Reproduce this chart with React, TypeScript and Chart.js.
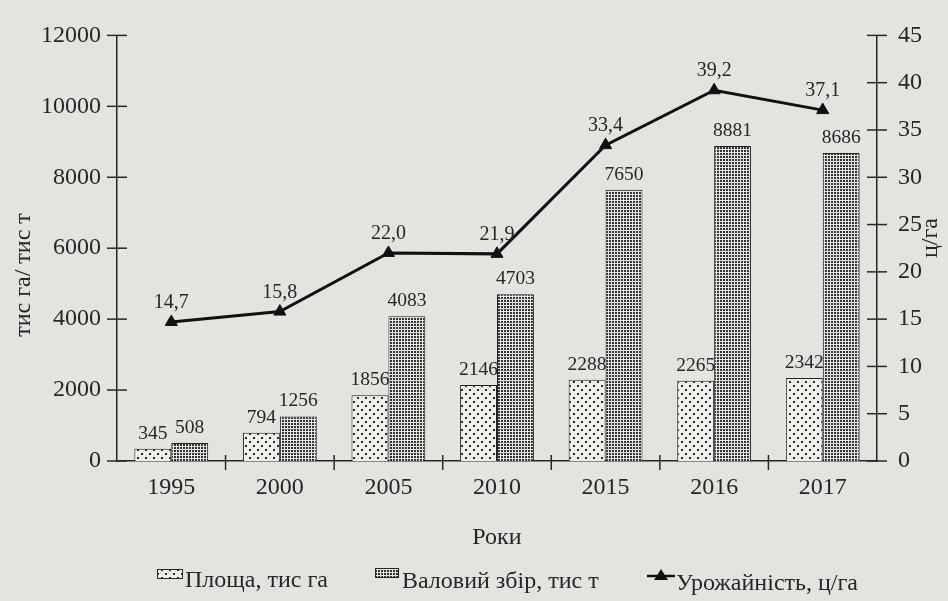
import React, { useEffect, useRef } from "react";
import { Chart, registerables } from "chart.js";

Chart.register(...registerables);

const years = ["1995", "2000", "2005", "2010", "2015", "2016", "2017"];
const area = [345, 794, 1856, 2146, 2288, 2265, 2342];
const harvest = [508, 1256, 4083, 4703, 7650, 8881, 8686];
const yieldValues = [14.7, 15.8, 22.0, 21.9, 33.4, 39.2, 37.1];
const leftTicks = [0, 2000, 4000, 6000, 8000, 10000, 12000];
const rightTicks = [0, 5, 10, 15, 20, 25, 30, 35, 40, 45];

const labelArea = "Площа, тис га";
const labelHarvest = "Валовий збір, тис т";
const labelYield = "Урожайність, ц/га";
const titleLeft = "тис га/ тис т";
const titleRight = "ц/га";
const titleX = "Роки";

const BG = "#e3e3e0";
const INK = "#262626";
const FONT = "'Liberation Serif', 'Times New Roman', serif";

function makeSparsePattern(): CanvasPattern | string {
  const c = document.createElement("canvas");
  c.width = 8;
  c.height = 8;
  const g = c.getContext("2d");
  if (!g) return "#eee";
  g.fillStyle = "#efefec";
  g.fillRect(0, 0, 8, 8);
  g.fillStyle = "#2a2a2a";
  g.fillRect(1, 1, 2, 2);
  g.fillRect(5, 5, 2, 2);
  return g.createPattern(c, "repeat") || "#eee";
}

function makeDensePattern(): CanvasPattern | string {
  const c = document.createElement("canvas");
  c.width = 3;
  c.height = 3;
  const g = c.getContext("2d");
  if (!g) return "#999";
  g.fillStyle = "#e6e6e3";
  g.fillRect(0, 0, 3, 3);
  g.fillStyle = "#333333";
  g.fillRect(0, 0, 2, 2);
  return g.createPattern(c, "repeat") || "#999";
}

export default function App() {
  const ref = useRef<HTMLCanvasElement | null>(null);

  useEffect(() => {
    if (!ref.current) return;
    const sparse = makeSparsePattern();
    const dense = makeDensePattern();

    const decor = {
      id: "decor",
      beforeDraw(chart: any) {
        const ctx = chart.ctx;
        ctx.save();
        ctx.fillStyle = BG;
        ctx.fillRect(0, 0, chart.width, chart.height);
        ctx.restore();
      },
      afterDraw(chart: any) {
        const ctx = chart.ctx;
        const ys = chart.scales.y;
        const yr = chart.scales.y1;
        const xs = chart.scales.x;
        const ca = chart.chartArea;
        ctx.save();
        ctx.strokeStyle = INK;
        ctx.lineWidth = 1.5;
        leftTicks.forEach((v) => {
          const py = ys.getPixelForValue(v);
          ctx.beginPath();
          ctx.moveTo(ca.left - 10, py);
          ctx.lineTo(ca.left + 10, py);
          ctx.stroke();
        });
        rightTicks.forEach((v) => {
          const py = yr.getPixelForValue(v);
          ctx.beginPath();
          ctx.moveTo(ca.right - 10, py);
          ctx.lineTo(ca.right + 10, py);
          ctx.stroke();
        });
        for (let i = 1; i < years.length; i++) {
          const px = (xs.getPixelForValue(i - 1) + xs.getPixelForValue(i)) / 2;
          ctx.beginPath();
          ctx.moveTo(px, ca.bottom - 6);
          ctx.lineTo(px, ca.bottom + 9);
          ctx.stroke();
        }

        // data labels
        ctx.fillStyle = INK;
        ctx.font = `19.5px ${FONT}`;
        ctx.textAlign = "center";
        ctx.textBaseline = "alphabetic";
        [0, 1].forEach((di) => {
          const meta = chart.getDatasetMeta(di);
          const data = di === 0 ? area : harvest;
          meta.data.forEach((el: any, i: number) => {
            ctx.fillText(String(data[i]), el.x, el.y - 10);
          });
        });
        ctx.font = `20px ${FONT}`;
        const lm = chart.getDatasetMeta(2);
        lm.data.forEach((el: any, i: number) => {
          ctx.fillText(yieldValues[i].toFixed(1).replace(".", ","), el.x, el.y - 14);
        });

        // axis titles
        ctx.font = `24px ${FONT}`;
        ctx.textBaseline = "middle";
        ctx.save();
        ctx.translate(24, 275);
        ctx.rotate(-Math.PI / 2);
        ctx.fillText(titleLeft, 0, 0);
        ctx.restore();
        ctx.save();
        ctx.translate(931, 238);
        ctx.rotate(-Math.PI / 2);
        ctx.fillText(titleRight, 0, 0);
        ctx.restore();
        ctx.textBaseline = "alphabetic";
        ctx.fillText(titleX, 497, 544);

        // legend
        const base = 587;
        ctx.textAlign = "left";
        ctx.font = `24px ${FONT}`;
        ctx.lineWidth = 1;
        ctx.strokeStyle = INK;
        ctx.fillStyle = sparse as any;
        ctx.fillRect(157, 569, 26, 10);
        ctx.strokeRect(157.5, 569.5, 25, 9);
        ctx.fillStyle = INK;
        ctx.fillText(labelArea, 185, base);
        ctx.fillStyle = dense as any;
        ctx.fillRect(375, 568, 24, 10);
        ctx.strokeRect(375.5, 568.5, 23, 9);
        ctx.fillStyle = INK;
        ctx.fillText(labelHarvest, 402, base + 1);
        ctx.lineWidth = 2.5;
        ctx.strokeStyle = "#111";
        ctx.beginPath();
        ctx.moveTo(647, 576);
        ctx.lineTo(675, 576);
        ctx.stroke();
        ctx.fillStyle = "#111";
        ctx.beginPath();
        ctx.moveTo(661, 569);
        ctx.lineTo(668, 580);
        ctx.lineTo(654, 580);
        ctx.closePath();
        ctx.fill();
        ctx.fillStyle = INK;
        ctx.fillText(labelYield, 676, base + 3);
        ctx.restore();
      },
    };

    const tickFont = { family: FONT, size: 24 };
    const chart = new Chart(ref.current, {
      data: {
        labels: years,
        datasets: [
          {
            type: "bar",
            label: labelArea,
            data: area,
            backgroundColor: sparse as any,
            borderColor: "#222",
            borderWidth: 1,
            yAxisID: "y",
            barPercentage: 1,
            categoryPercentage: 0.68,
            order: 2,
          },
          {
            type: "bar",
            label: labelHarvest,
            data: harvest,
            backgroundColor: dense as any,
            borderColor: "#222",
            borderWidth: 1,
            yAxisID: "y",
            barPercentage: 1,
            categoryPercentage: 0.68,
            order: 2,
          },
          {
            type: "line",
            label: labelYield,
            data: yieldValues,
            borderColor: "#111",
            backgroundColor: "#111",
            borderWidth: 3,
            pointStyle: "triangle",
            pointRadius: 7,
            pointBackgroundColor: "#111",
            pointBorderColor: "#111",
            pointBorderWidth: 1,
            yAxisID: "y1",
            tension: 0,
            order: 1,
          },
        ],
      } as any,
      plugins: [decor],
      options: {
        responsive: false,
        animation: false,
        layout: { padding: { top: 28, left: 0, right: 0, bottom: 0 } },
        plugins: {
          legend: { display: false },
          tooltip: { enabled: false },
        },
        scales: {
          x: {
            grid: { display: false, drawTicks: false },
            border: { display: true, color: INK, width: 1.5 },
            ticks: { font: tickFont, color: INK, padding: 12 },
            afterFit(s: any) {
              s.height = 140;
            },
          },
          y: {
            position: "left",
            min: 0,
            max: 12000,
            grid: { display: false, drawTicks: false },
            border: { display: true, color: INK, width: 1.5 },
            ticks: {
              stepSize: 2000,
              font: tickFont,
              color: INK,
              padding: 16,
              callback: (v: any) => String(v),
            },
            afterFit(s: any) {
              s.width = 117;
            },
          },
          y1: {
            position: "right",
            min: 0,
            max: 45,
            grid: { display: false, drawTicks: false },
            border: { display: true, color: INK, width: 1.5 },
            ticks: {
              stepSize: 5,
              font: tickFont,
              color: INK,
              padding: 21,
              callback: (v: any) => String(v),
            },
            afterFit(s: any) {
              s.width = 71;
            },
          },
        },
      } as any,
    });
    return () => chart.destroy();
  }, []);

  return (
    <div style={{ position: "fixed", left: 0, top: 0, width: 948, height: 601, background: BG }}>
      <canvas ref={ref} width={948} height={601} style={{ display: "block", width: 948, height: 601 }} />
    </div>
  );
}
